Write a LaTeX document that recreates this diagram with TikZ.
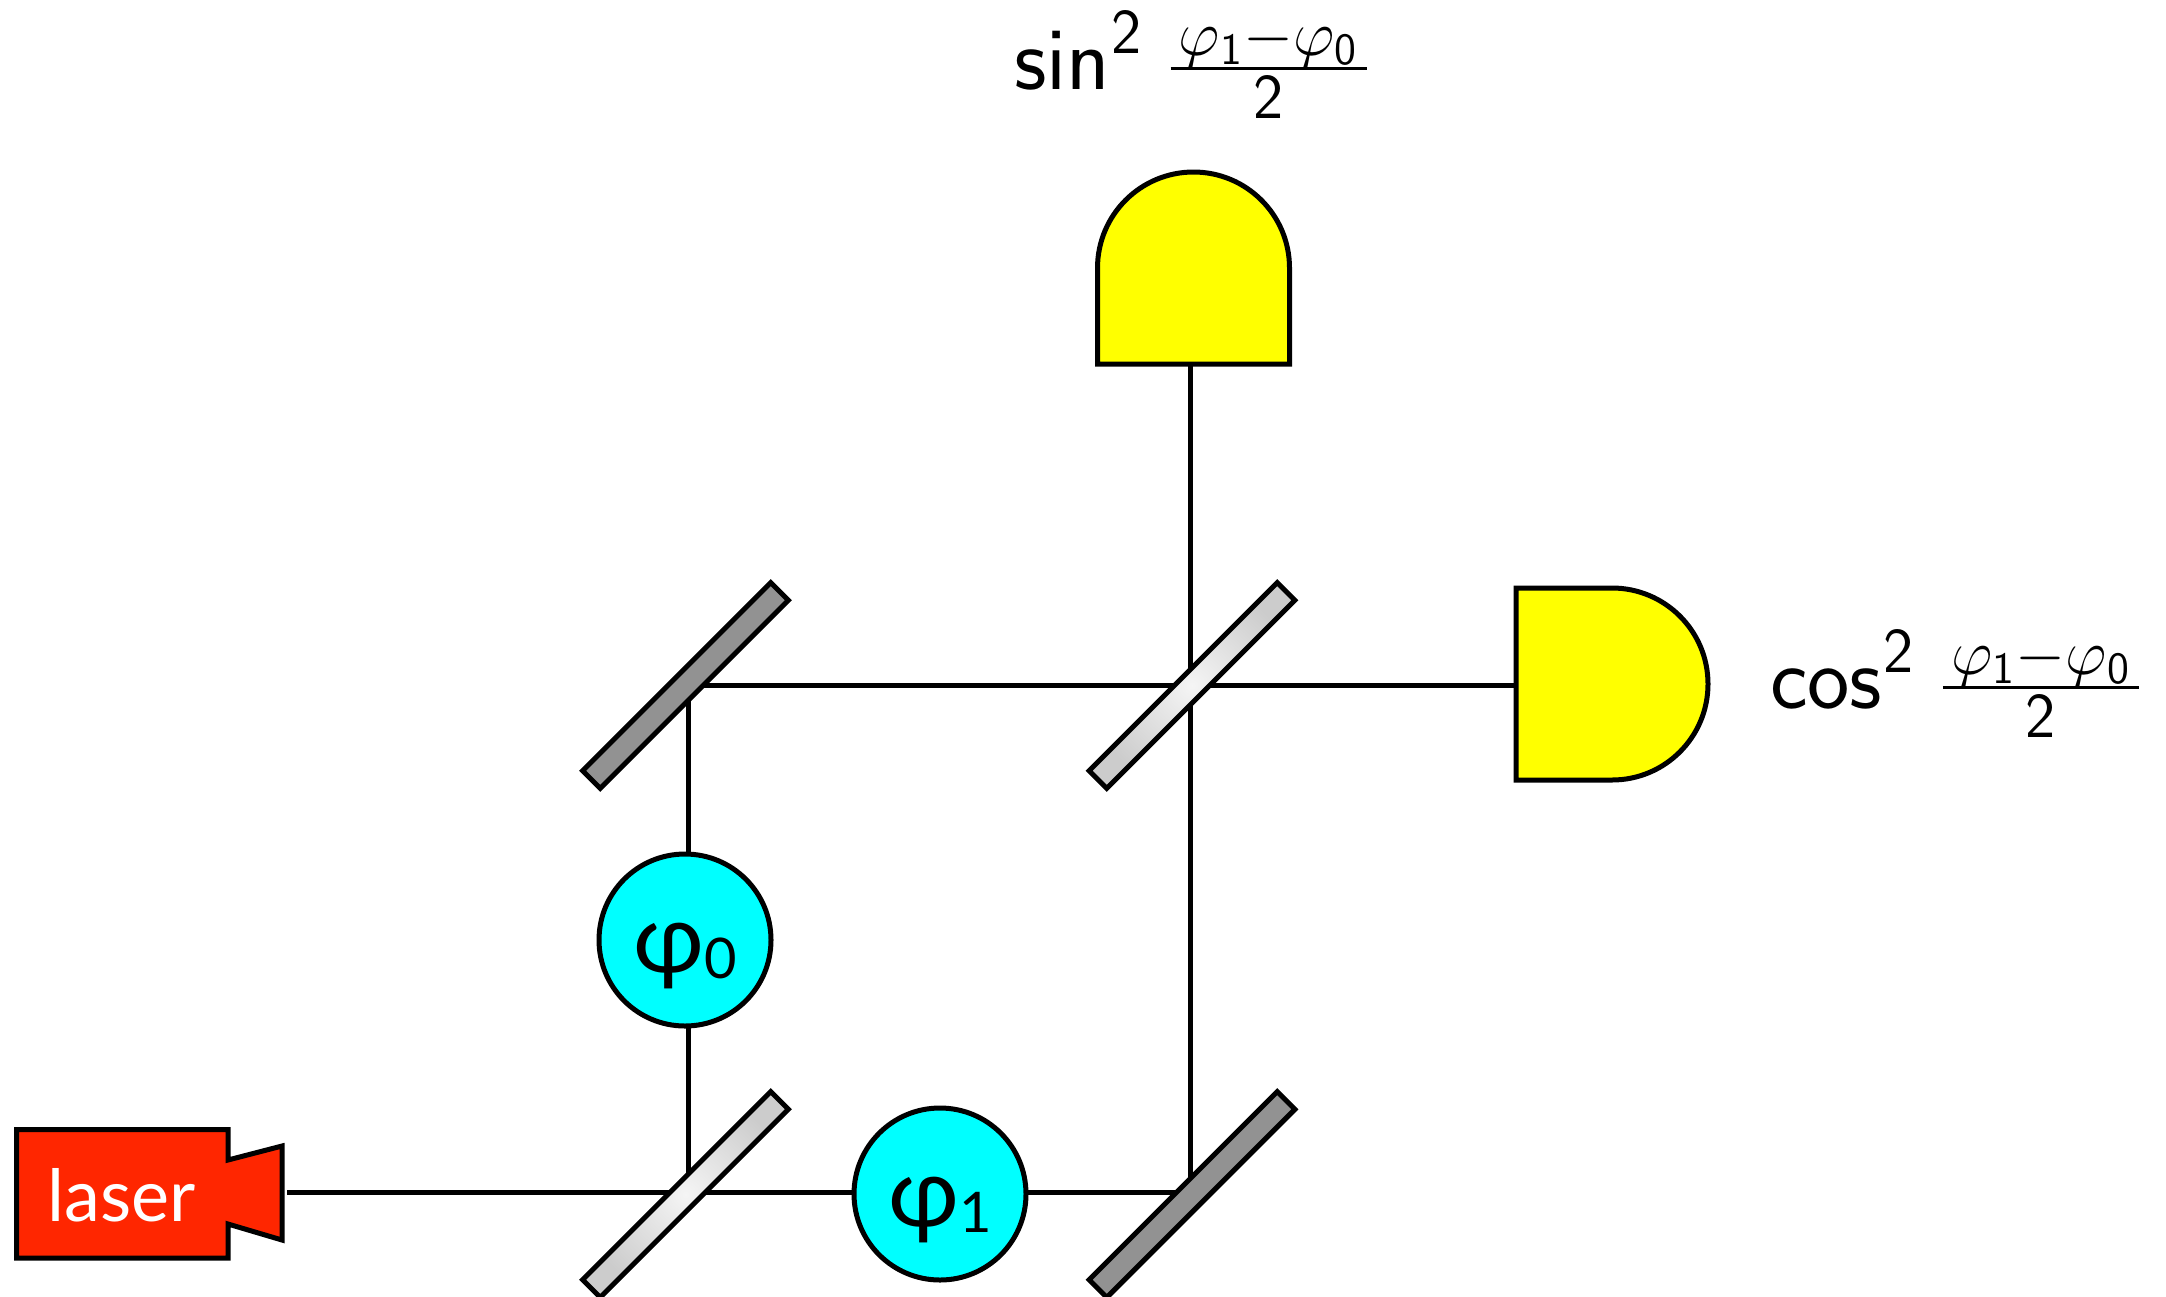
\documentclass[tikz,border=0pt]{standalone}
\usepackage{fontspec}
\usepackage{graphicx}
\usetikzlibrary{shapes.misc,backgrounds}
\newfontfamily\gillish{Lato}
\definecolor{laserred}{HTML}{FF2600}
\definecolor{mirrorgray}{HTML}{929292}
\definecolor{phasecyan}{HTML}{00FFFF}
\definecolor{detyellow}{HTML}{FFFF00}
\newcommand{\phasefrac}{%
  \hbox to 98pt{\hss\raisebox{17pt}{\scalebox{1.55}{\fontsize{20.74}{24}\selectfont$\varphi_{\mathsf{1}}{-}\varphi_{\mathsf{0}}$}}\hss}\kern-98pt
  \hbox to 98pt{\raisebox{9.75pt}{\rule{98pt}{1.5pt}}}\kern-98pt
  \hbox to 98pt{\hss\raisebox{-14.5pt}{\fontsize{32}{36}\selectfont 2}\hss}}
\newcommand{\trigsq}[1]{{\sffamily\fontsize{45}{54}\selectfont #1\kern0.5pt\raisebox{18pt}{\fontsize{32}{38}\selectfont 2}\kern14.7pt\phasefrac}}
\newcommand{\phaselabel}[1]{\raisebox{-16pt}[0pt][0pt]{φ\raisebox{-3pt}{\fontsize{28}{32}\selectfont #1}}}
\tikzset{
  beam/.style={line width=2.5pt,draw=black},
  plate/.style={rectangle,rotate=45,minimum width=133pt,minimum height=12.5pt,inner sep=0pt,outer sep=0pt,draw=black,line width=2.5pt},
  mirror/.style={plate,fill=mirrorgray},
  splitter/.style={plate,shading=radial,inner color=white!96!black,outer color=white!80!black},
  phase/.style={circle,minimum size=86pt,inner sep=0pt,outer sep=0pt,draw=black,line width=2.5pt,fill=phasecyan,font=\gillish\fontsize{48}{56}\selectfont},
  detector/.style={rounded rectangle,rounded rectangle west arc=none,minimum width=96pt,minimum height=96pt,inner sep=0pt,outer sep=0pt,draw=black,line width=2.5pt,fill=detyellow},
  tag/.style={anchor=base west,inner sep=0pt,outer sep=0pt}
}
\begin{document}
\begin{tikzpicture}[x=0.5pt,y=-0.5pt]
\useasboundingbox (0,0) rectangle (2166,1296);
\begin{scope}
\clip (0,0) rectangle (2166,1296);
% laser body
\draw[fill=laserred,line width=2.5pt,miter limit=10] (16.5,1129.5) -- (228,1129.5) -- (228,1160) -- (282,1146) -- (282,1240) -- (228,1224) -- (228,1258) -- (16.5,1258) -- cycle;
\node[inner sep=0pt,text=white,font=\gillish\fontsize{36}{44}\selectfont] (laser) at (122,1195) {laser};
\coordinate (laserout) at (287,1192.5);
% optics
\node[splitter] (bsA) at (685.5,1194.5) {};
\node[mirror] (mB) at (1192,1194.5) {};
\node[mirror] (mA) at (685.5,685.5) {};
\node[splitter] (bsB) at (1192,685.5) {};
\node[phase] (phi0) at (685,940) {\phaselabel{0}};
\node[phase] (phi1) at (940,1194) {\phaselabel{1}};
\node[detector,rotate=90] (det1) at (1193.5,268) {};
\node[detector] (det2) at (1612,684) {};
% labels
\node[tag] (sinlabel) at (1014,89) {\trigsq{sin}};
\node[tag] (coslabel) at (1770,708) {\trigsq{cos}};
\end{scope}
% beams, beneath the optics
\begin{pgfonlayer}{background}
\draw[beam] (laserout) -- ([yshift=1pt]bsA.center);
\draw[beam] ([yshift=1pt]bsA.center) -- ([yshift=.75pt]phi1.center);
\draw[beam] ([yshift=.75pt]phi1.center) -- ([yshift=1pt]mB.center);
\draw[beam] ([xshift=1.5pt]bsA.center) -- ([xshift=1.75pt]phi0.center);
\draw[beam] ([xshift=1.75pt]phi0.center) -- ([xshift=1.5pt]mA.center);
\draw[beam] (mA.center) -- (bsB.center);
\draw[beam] (bsB.center) -- ([yshift=-.75pt]det2.center);
\draw[beam] ([xshift=-1pt]mB.center) -- ([xshift=-1pt]bsB.center);
\draw[beam] ([xshift=-1pt]bsB.center) -- ([xshift=-1.75pt]det1.west);
\end{pgfonlayer}
\end{tikzpicture}
\end{document}
